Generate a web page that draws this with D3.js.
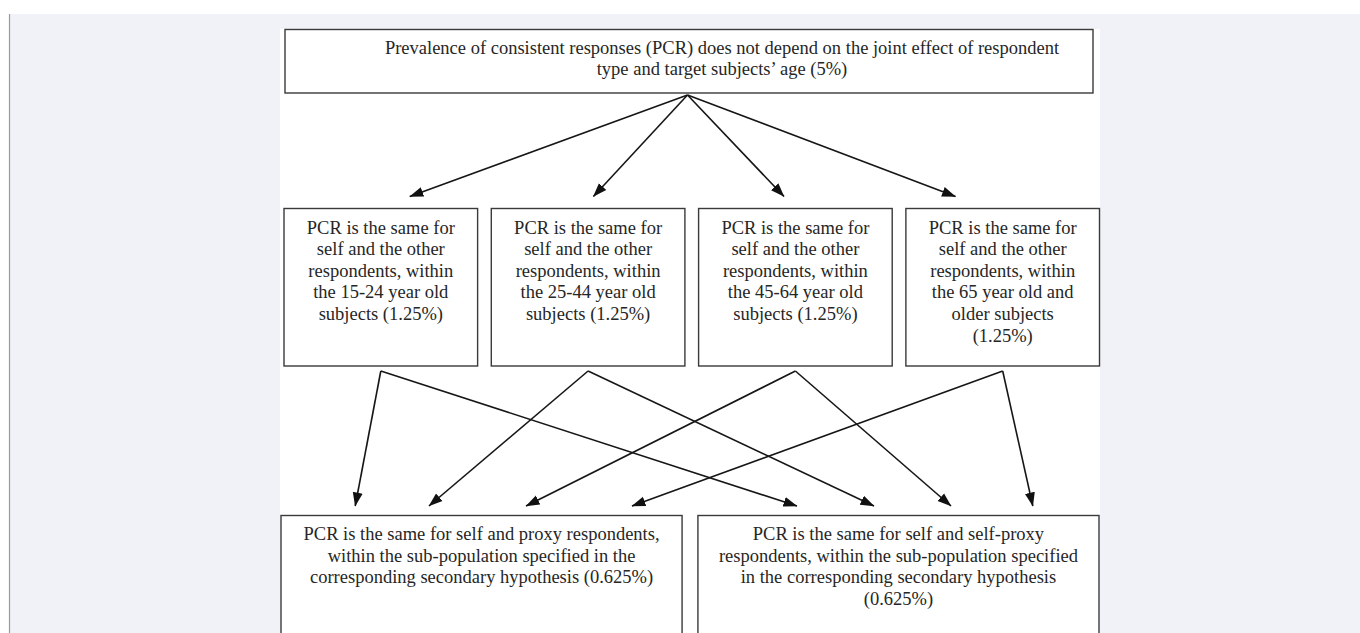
<!DOCTYPE html>
<html>
<head>
<meta charset="utf-8">
<script src="https://cdn.jsdelivr.net/npm/d3@7"></script>
<style>
  html, body { margin: 0; padding: 0; background: #ffffff; }
  svg { display: block; }
  text { font-family: "Liberation Serif", "Times New Roman", serif; fill: #262626; }
</style>
</head>
<body>
<svg id="chart" width="1360" height="633"></svg>
<script>
// ---------- data ----------
const topLines = [
  "Prevalence of consistent responses (PCR) does not depend on the joint effect of respondent",
  "type and target subjects\u2019 age (5%)"
];
const ageGroups = ["15-24", "25-44", "45-64", "65+"];
const midLines = [
  ["PCR is the same for", "self and the other", "respondents, within", "the 15-24 year old", "subjects (1.25%)"],
  ["PCR is the same for", "self and the other", "respondents, within", "the 25-44 year old", "subjects (1.25%)"],
  ["PCR is the same for", "self and the other", "respondents, within", "the 45-64 year old", "subjects (1.25%)"],
  ["PCR is the same for", "self and the other", "respondents, within", "the 65 year old and", "older subjects", "(1.25%)"]
];
const respondentTypes = ["proxy", "self-proxy"];
const bottomLines = [
  ["PCR is the same for self and proxy respondents,", "within the sub-population specified in the", "corresponding secondary hypothesis (0.625%)"],
  ["PCR is the same for self and self-proxy", "respondents, within the sub-population specified", "in the corresponding secondary hypothesis", "(0.625%)"]
];
// every secondary hypothesis feeds both tertiary hypotheses
const crossLinks = [];
ageGroups.forEach((a, i) => respondentTypes.forEach((r, j) => crossLinks.push({ from: a, to: r, i, j })));

// ---------- layout (positions / styles) ----------
const W = 1360, H = 633;
const svg = d3.select("#chart");
const fontSize = 18.5;
const lineGap = 21.6;

// page background
svg.append("rect").attr("x", 0).attr("y", 0).attr("width", W).attr("height", H).attr("fill", "#ffffff");
svg.append("rect").attr("x", 9).attr("y", 14).attr("width", W - 9).attr("height", H - 14).attr("fill", "#f1f2f7");
svg.append("line").attr("x1", 9.5).attr("x2", 9.5).attr("y1", 14).attr("y2", H)
  .attr("stroke", "#9a9a9a").attr("stroke-width", 1.2);
// white figure panel
svg.append("rect").attr("x", 280).attr("y", 29).attr("width", 820).attr("height", H - 29).attr("fill", "#ffffff");

const topBox = { x0: 285, x1: 1093, y0: 29.5, y1: 93 };
const xMid = d3.scaleBand().domain(ageGroups).range([284, 1099.5]).paddingInner(0.066);
const midY0 = 208.5, midY1 = 366;
const xBot = d3.scaleBand().domain(respondentTypes).range([281, 1099]).paddingInner(0.038);
const botY0 = 515.5, botY1 = 720;

// where the arrows aim (fractions of box width)
const midAim = [0.48, 0.47, 0.50, 0.42];
const botAim = { "proxy": [0.185, 0.369, 0.611, 0.875], "self-proxy": [0.247, 0.439, 0.631, 0.835] };

// arrow marker
svg.append("defs").append("marker")
  .attr("id", "arrow").attr("viewBox", "0 -6 14 12")
  .attr("refX", 13.5).attr("refY", 0)
  .attr("markerUnits", "userSpaceOnUse")
  .attr("markerWidth", 14).attr("markerHeight", 12)
  .attr("orient", "auto")
  .append("path").attr("d", "M0,-5L14,0L0,5Z").attr("fill", "#111");

const arrows = svg.append("g").attr("stroke", "#161616").attr("stroke-width", 1.6).attr("fill", "none");

// top -> secondary arrows
const apex = { x: (topBox.x0 + topBox.x1) / 2 - 1.5, y: topBox.y1 + 2 };
ageGroups.forEach((a, i) => {
  const aimX = xMid(a) + xMid.bandwidth() * midAim[i];
  const aimY = midY0;
  const tipY = midY0 - 12;
  const t = (tipY - apex.y) / (aimY - apex.y);
  arrows.append("line")
    .attr("x1", apex.x).attr("y1", apex.y)
    .attr("x2", apex.x + (aimX - apex.x) * t).attr("y2", tipY)
    .attr("marker-end", "url(#arrow)");
});

// secondary -> tertiary arrows
crossLinks.forEach(l => {
  const sx = xMid(l.from) + xMid.bandwidth() / 2;
  const sy = midY1 + 5;
  const ex = xBot(l.to) + xBot.bandwidth() * botAim[l.to][l.i];
  const ey = botY0 - 9.5;
  arrows.append("line")
    .attr("x1", sx).attr("y1", sy).attr("x2", ex).attr("y2", ey)
    .attr("marker-end", "url(#arrow)");
});

// boxes
const boxStyle = sel => sel.attr("fill", "#ffffff").attr("stroke", "#3a3a3a").attr("stroke-width", 1.4);
svg.append("rect").attr("x", topBox.x0).attr("y", topBox.y0)
  .attr("width", topBox.x1 - topBox.x0).attr("height", topBox.y1 - topBox.y0).call(boxStyle);

function addLines(cx, y0, lines) {
  const t = svg.append("text").attr("text-anchor", "middle").attr("font-size", fontSize);
  lines.forEach((s, k) => t.append("tspan").attr("x", cx).attr("y", y0 + k * lineGap).text(s));
}
addLines((topBox.x0 + topBox.x1) / 2 + 33, 53.5, topLines);

ageGroups.forEach((a, i) => {
  svg.append("rect").attr("x", xMid(a)).attr("y", midY0)
    .attr("width", xMid.bandwidth()).attr("height", midY1 - midY0).call(boxStyle);
  addLines(xMid(a) + xMid.bandwidth() / 2, 233.5, midLines[i]);
});

respondentTypes.forEach((r, j) => {
  svg.append("rect").attr("x", xBot(r)).attr("y", botY0)
    .attr("width", xBot.bandwidth()).attr("height", botY1 - botY0).call(boxStyle);
  addLines(xBot(r) + xBot.bandwidth() / 2, 540, bottomLines[j]);
});
</script>
</body>
</html>
